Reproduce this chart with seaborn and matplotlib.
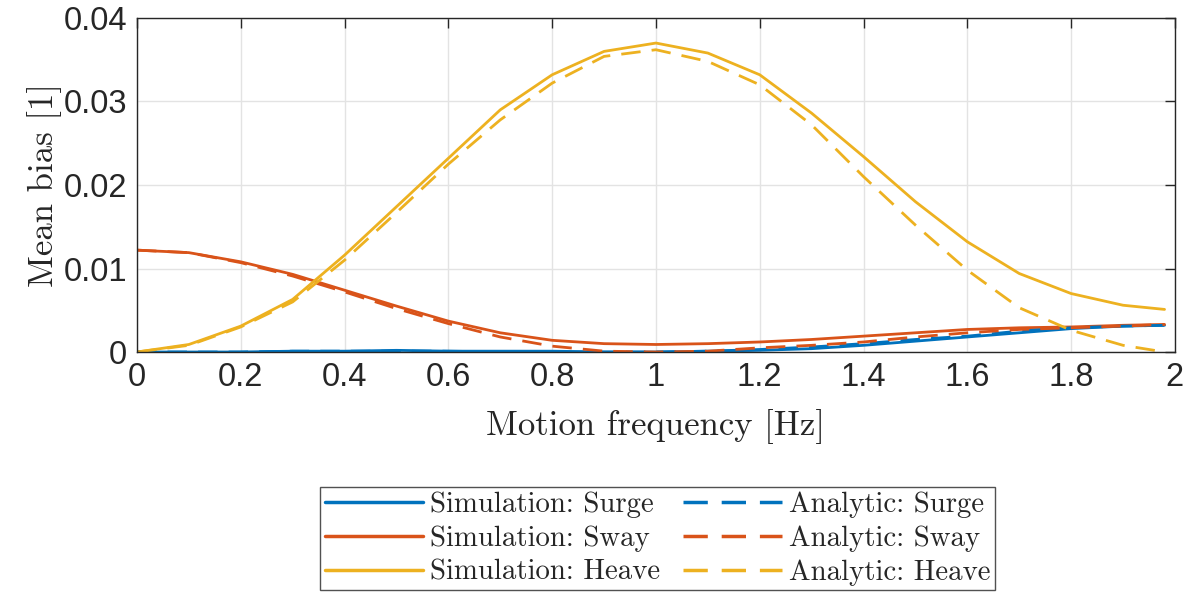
import matplotlib.pyplot as plt
import numpy as np
import pandas as pd
import seaborn as sns

# values
freq = [0.0, 0.1, 0.2, 0.3, 0.4, 0.5, 0.6, 0.7, 0.8, 0.9, 1.0,
        1.1, 1.2, 1.3, 1.4, 1.5, 1.6, 1.7, 1.8, 1.9, 1.98]

sim_surge = [0.0, 0.0, 0.0, 0.0001, 0.0001, 0.0002, 0.0001, 0.0001, 0.0001, 0.0, 0.0,
             0.0001, 0.0002, 0.0004, 0.0008, 0.0013, 0.0018, 0.0023, 0.0028, 0.0031, 0.0032]
sim_sway = [0.0122, 0.0119, 0.0108, 0.0093, 0.0074, 0.0055, 0.0037, 0.0023, 0.0014, 0.0010, 0.0009,
            0.0010, 0.0012, 0.0015, 0.0019, 0.0023, 0.0027, 0.0029, 0.0030, 0.0032, 0.0033]
sim_heave = [0.0, 0.0009, 0.0031, 0.0063, 0.0116, 0.0174, 0.0232, 0.0290, 0.0332, 0.0360, 0.0370,
             0.0358, 0.0332, 0.0286, 0.0234, 0.0180, 0.0132, 0.0094, 0.0070, 0.0056, 0.0051]

ana_surge = [0.0, 0.0, 0.0, 0.0001, 0.0001, 0.0001, 0.0001, 0.0, 0.0, 0.0, 0.0,
             0.0001, 0.0003, 0.0006, 0.0010, 0.0015, 0.0019, 0.0025, 0.0029, 0.0031, 0.0032]
ana_sway = [0.0122, 0.0119, 0.0107, 0.0091, 0.0072, 0.0052, 0.0034, 0.0018, 0.0007, 0.0001, 0.0,
            0.0001, 0.0005, 0.0008, 0.0012, 0.0018, 0.0023, 0.0027, 0.0029, 0.0031, 0.0033]
ana_heave = [0.0, 0.0008, 0.0030, 0.0060, 0.0110, 0.0167, 0.0225, 0.0278, 0.0322, 0.0354, 0.0362,
             0.0348, 0.0320, 0.0272, 0.0210, 0.0152, 0.0098, 0.0053, 0.0026, 0.0008, 0.0]

x_ticks = [0, 0.2, 0.4, 0.6, 0.8, 1, 1.2, 1.4, 1.6, 1.8, 2]
x_labels = ['0', '0.2', '0.4', '0.6', '0.8', '1', '1.2', '1.4', '1.6', '1.8', '2']
y_ticks = [0, 0.01, 0.02, 0.03, 0.04]
y_labels = ['0', '0.01', '0.02', '0.03', '0.04']

sns.set_theme(style='white')
plt.rcParams['font.family'] = ['Liberation Sans', 'DejaVu Sans']

colors = {'Surge': '#0072BD', 'Sway': '#D95319', 'Heave': '#EDB120'}

series = [
    ('Simulation', 'Surge', sim_surge),
    ('Simulation', 'Sway', sim_sway),
    ('Simulation', 'Heave', sim_heave),
    ('Analytic', 'Surge', ana_surge),
    ('Analytic', 'Sway', ana_sway),
    ('Analytic', 'Heave', ana_heave),
]

fig = plt.figure(figsize=(11.88, 5.92), dpi=100)
ax = fig.add_axes([0.1153, 0.4054, 0.8737, 0.5642])

for source, motion, vals in series:
    df = pd.DataFrame({'freq': freq, 'bias': vals})
    line_style = '-' if source == 'Simulation' else (0, (7, 4))
    sns.lineplot(data=df, x='freq', y='bias', ax=ax, color=colors[motion],
                 linewidth=2.0, linestyle=line_style, label=f'{source}: {motion}')

ax.set_xlim(0, 2)
ax.set_ylim(0, 0.04)
ax.set_xticks(x_ticks)
ax.set_xticklabels(x_labels)
ax.set_yticks(y_ticks)
ax.set_yticklabels(y_labels)
ax.tick_params(axis='both', direction='in', length=7, width=1, colors='#262626',
               labelsize=23.5, top=True, right=True, pad=7)
for lbl in ax.get_xticklabels() + ax.get_yticklabels():
    lbl.set_color('#262626')
ax.grid(True, color='#e3e3e3', linewidth=1)
for sp in ax.spines.values():
    sp.set_color('#262626')
    sp.set_linewidth(1)

ax.set_xlabel('Motion frequency [Hz]', family='cmr10', fontsize=25, color='#262626', labelpad=12)
ax.set_ylabel('Mean bias [1]', family='cmr10', fontsize=25, color='#262626', labelpad=1)

leg = ax.legend(loc='lower center', bbox_to_anchor=(0.5535, 0.003), bbox_transform=fig.transFigure,
                ncol=2, prop={'family': 'cmr10', 'size': 20.8}, frameon=True, fancybox=False,
                handlelength=3.4, handletextpad=0.25, columnspacing=0.8, labelspacing=0.26,
                borderpad=0.15, borderaxespad=0)
leg.get_frame().set_edgecolor('#262626')
leg.get_frame().set_linewidth(1)
for line in leg.get_lines():
    line.set_linewidth(2.5)

fig.savefig('out.png', dpi=100)
